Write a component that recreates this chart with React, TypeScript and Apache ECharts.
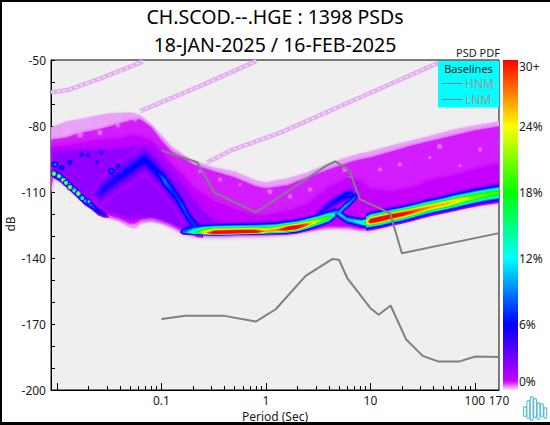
import React, { useEffect, useRef } from "react";
import * as echarts from "echarts";

const FONT = "Noto Sans";
const titleLines = ["CH.SCOD.--.HGE : 1398 PSDs", "18-JAN-2025 / 16-FEB-2025"];
const xMajorTicks = [0.01, 0.1, 1, 10, 100];
const xMinorTicks = [0.02, 0.03, 0.04, 0.05, 0.06, 0.07, 0.08, 0.09, 0.2, 0.3, 0.4, 0.5, 0.6, 0.7, 0.8, 0.9, 2, 3, 4, 5, 6, 7, 8, 9, 20, 30, 40, 50, 60, 70, 80, 90];
const xLabels = [0.1, 1, 10, 100, 170];
const yLabels = [-200, -170, -140, -110, -80, -50];
const yTicks = [-190, -180, -170, -160, -150, -140, -130, -120, -110, -100, -90, -80, -70, -60];
const barLabels = [0.73, 6, 12, 18, 24, 29.45];

const hnmPeriod = [0.1, 0.22, 0.32, 0.8, 3.8, 4.6, 6.3, 7.9, 15.4, 20, 170];
const hnmDb = [-91.1, -96.5, -110.2, -119.3, -98, -96.1, -100.2, -113.2, -119.6, -137.8, -128.7];
const lnmPeriod = [0.1, 0.17, 0.4, 0.8, 1.24, 2.4, 4.3, 5, 6, 10, 12, 15.6, 21.9, 31.6, 45, 70, 101, 170];
const lnmDb = [-167.7, -166.3, -166.3, -168.9, -163.3, -148.1, -140.5, -140.8, -149.1, -162.8, -165.8, -161.6, -176.9, -184.5, -187.1, -187.1, -184.8, -185];

const stripeA = [[0.0088, -64.8], [0.0133, -63.4], [0.0258, -58.5], [0.0665, -50.7]];
const stripeB = [[0.0623, -73.3], [0.233, -61.9], [0.81, -50.5]];
const stripeC = [[0.27, -96.7], [0.483, -90.7], [1.36, -83.1], [4.76, -71.7], [44.6, -51.3]];

const colorStops = [0, 0.8, 3, 6, 9, 12, 15, 18, 21, 24, 27, 30];
const colorValues = ["#fff0ff", "#cc00ff", "#7000ff", "#0000ff", "#0080ff", "#00ffff", "#00ff80", "#00ff00", "#80ff00", "#ffff00", "#ff8000", "#ff0000"];

const regionPeriods = [0.0088, 0.0092, 0.0125, 0.016, 0.02, 0.025, 0.032, 0.04, 0.05, 0.056, 0.063, 0.08, 0.1, 0.125, 0.16, 0.2, 0.32, 0.5, 0.8, 1, 1.6, 2.5, 4, 6.3, 8, 10, 16, 25, 40, 63, 100, 170];
const fringeTop = [-80.7, -80.2, -78, -77, -76.1, -75.2, -74.3, -74.1, -73.9, -74.3, -75.2, -79.3, -84.3, -89.3, -92.9, -95.7, -98.9, -100.7, -104.8, -105.7, -103.9, -101.1, -97, -93.9, -92.5, -91.6, -88.9, -86.6, -84.1, -81.6, -79.8, -78];
const fringeBottom = [-111.1, -103.4, -107.5, -112, -115.7, -119.3, -122, -123.4, -126.1, -126.6, -124.3, -123.4, -124.3, -126.1, -128.9, -129.8, -129.8, -129.8, -129.8, -129.8, -129.4, -128, -126.4, -126.6, -127.5, -127.5, -125.2, -123, -120.7, -118.4, -116.4, -114.8];
const mainTop = [-86.1, -86.1, -85.2, -83.4, -82.5, -81.6, -80.2, -78.9, -77.5, -77, -77, -80.7, -86.6, -91.6, -94.3, -97.5, -100.7, -103.4, -107.5, -108.4, -107.1, -103.4, -99.8, -96.6, -95.2, -94.3, -91.6, -88.9, -86.6, -84.3, -82, -80.2];
const mainBottom = [-108.9, -102.5, -106.6, -111.1, -114.8, -118.4, -120.7, -122, -124.3, -124.3, -122.5, -121.6, -123, -124.8, -127.5, -129.3, -129.3, -129.3, -129.3, -129.3, -128.9, -127.5, -125.7, -125.9, -126.8, -126.8, -124.3, -121.8, -119.8, -117.5, -115.7, -114.3];
const deepTop = [-89.3, -89.3, -88.9, -88, -87, -86.6, -86.1, -85.7, -84.3, -84.3, -84.8, -86.6, -91.6, -97.5, -102, -107.9, -114.3, -118, -120.7, -120.7, -118.9, -115.7, -107.9, -103.4, -105.2, -108.9, -109.8, -107.9, -104.3, -102.5, -99.8, -97];
const deepBottom = [-103.4, -100.7, -105.7, -109.8, -113.4, -117, -119.8, -121.1, -123, -123, -121.6, -121.1, -122.5, -124.3, -127, -129.1, -129.1, -129.1, -129.1, -128.9, -128, -126.6, -125, -125.2, -126.1, -126.1, -123.4, -121.1, -118.9, -116.6, -115.2, -113.6];

const violetPeriods = [0.0092, 0.0125, 0.02, 0.032, 0.05, 0.08, 0.1, 0.125, 0.16, 0.2, 0.25, 0.32, 0.5];
const violetTop = [-91.6, -91.6, -90.7, -90.7, -89.8, -89.3, -95.2, -100.7, -107, -113.4, -118.9, -123.4, -126.1];
const violetBottom = [-99.8, -104.3, -112.5, -118.9, -121.6, -121.1, -122, -123.9, -126.6, -128, -128.4, -128.9, -128.9];

const leftPeriod = [0.00916, 0.0107, 0.0125, 0.016, 0.0185, 0.0216, 0.025, 0.0282, 0.032];
const leftDb = [-101.2, -103, -105.9, -110.8, -113.8, -116.1, -118.8, -119.9, -121.7];
const leftPeak = [14, 14, 14, 14, 12, 9, 7, 5.5, 1.4];
const leftSpread = [1.1, 1.1, 1.1, 1.1, 1.1, 1.1, 1.1, 1.1, 1.1];

const floorPeriod = [0.15, 0.16, 0.2, 0.25, 0.32, 0.5, 0.8, 1, 1.25, 1.6, 2, 2.5, 3.2, 4, 4.6];
const floorDb = [-128.4, -128.4, -128.5, -128.6, -128.7, -128.5, -128.3, -127.9, -127.5, -126.8, -126.1, -124.8, -123.2, -121.6, -120];
const floorPeak = [1.4, 9, 15, 25, 34, 34, 33, 27, 28, 34, 34, 29, 23, 20, 12];
const floorUp = [1.5, 1.8, 2, 2, 2, 2, 2, 2, 1.9, 1.8, 1.7, 1.7, 1.7, 1.7, 1.7];
const floorDown = [0.5, 0.5, 0.5, 0.45, 0.45, 0.45, 0.5, 0.6, 0.8, 1, 1.1, 1.2, 1.3, 1.3, 1.3];

const elbowPeriod = [4.57, 5.1, 5.96, 8.2, 9.1, 9.9];
const elbowDb = [-118.9, -120.2, -122.5, -123.9, -123.9, -123.6];
const elbowPeak = [9, 12, 11, 14, 19, 27];
const elbowSpread = [1.2, 1.2, 1.2, 1.2, 1.2, 1.2];

const armPeriod = [4.57, 5.1, 5.7, 6.37, 7.1, 7.6];
const armDb = [-119.8, -118.9, -116.6, -114.8, -112.5, -111.1];
const armPeak = [9, 11, 11, 10, 9, 6];
const armSpread = [1.1, 1.1, 1.1, 1.1, 1.1, 1.1];

const strandPeriod = [2.64, 3.29, 4.38, 5.46, 6.65, 7.6];
const strandDb = [-122, -119.3, -114.8, -112, -111.1, -112.5];
const strandPeak = [1.4, 5, 6, 7, 7.5, 1.4];
const strandSpread = [1.6, 1.6, 1.6, 1.6, 1.6, 1.6];

const rightPeriod = [9.1, 10, 12.5, 16, 20, 25, 32, 40, 50, 63, 80, 100, 125, 170];
const rightDb = [-123.9, -123.2, -122.3, -121.1, -120.2, -119.1, -117.7, -116.6, -115.7, -114.5, -113.4, -112.3, -111.4, -110.4];
const rightPeak = [24, 33, 34, 33, 32, 30, 28, 27, 27, 26, 24, 22, 21, 20];
const rightUp = [1.9, 1.9, 1.9, 1.9, 1.9, 1.9, 1.9, 1.9, 1.9, 2, 2, 2, 2, 2.1];
const rightDown = [1.6, 1.7, 1.7, 1.7, 1.7, 1.7, 1.7, 1.7, 1.7, 1.8, 1.8, 1.9, 1.9, 2];

const veePeriod = [0.0207, 0.0258, 0.0344, 0.0533, 0.0695, 0.0906, 0.108, 0.135, 0.16, 0.187, 0.219, 0.25];
const veeDb = [-112, -110.2, -105.2, -98.9, -95.2, -100.7, -105.2, -111.1, -116.6, -122.5, -126.1, -127.5];
const veePeak = [1.4, 5.5, 6, 6.5, 6.8, 7, 9.5, 7.5, 8.5, 8, 8, 6];
const veeSpread = [2.4, 2.4, 2.4, 2.4, 2.4, 2.4, 2.4, 2.4, 2.4, 2.2, 2, 2];
const veeHaloPeak = [1.4, 4, 4.4, 4.5, 4.5, 4.5, 4.5, 4.5, 4.5, 4.5, 4.5, 3.5];
const veeHaloSpread = [5, 5, 5, 5, 5, 5, 5, 5, 4.5, 4, 3, 2.5];

const spotPeriod = [0.00957, 0.0111, 0.0133, 0.0172, 0.0198, 0.0241, 0.0268, 0.0333, 0.0384, 0.00935, 0.01045, 0.0115, 0.0122, 0.0133, 0.01466, 0.016, 0.01746, 0.0202];
const spotDb = [-97.5, -98.9, -96.6, -93, -93.4, -96.6, -92.2, -100.5, -98.3, -101.7, -102.8, -104.6, -105.8, -107.8, -109.3, -110.7, -112.8, -114.4];
const spotPeak = [10, 8, 7, 6.5, 6, 6, 6, 9, 7, 28, 24, 28, 24, 28, 22, 28, 20, 14];
const spotSize = [2.4, 2.4, 2.4, 2.2, 2.2, 2.2, 2.2, 2.6, 2.4, 1.5, 1.5, 1.5, 1.5, 1.5, 1.5, 1.5, 1.5, 1.5];

const palePeriod = [0.0107, 0.0139, 0.0166, 0.0231, 0.0321, 0.0384, 0.0448, 0.0557, 0.0258, 0.233, 0.363, 0.564, 1.09, 1.7, 2.64, 5.7, 6.37, 12.3, 19.1, 37, 46, 71.8, 112];
const paleDb = [-82.5, -79.8, -83.9, -78.9, -78, -79.8, -76.6, -77, -83, -100.7, -104.3, -106.6, -109.8, -112, -108.9, -99.8, -103.4, -99.8, -97.5, -94.3, -89.3, -98, -90.7];
const paleSize = [2.5, 2, 3, 2, 2.5, 2, 3, 2, 2.5, 1.5, 2, 1.5, 2.5, 2, 2, 2.5, 1.5, 2, 2, 1.5, 2.5, 1.5, 2];

const contourLevels = [1.5, 2, 2.5, 3, 3.5, 4, 4.5, 5, 5.5, 6, 7, 8, 9, 10, 11, 12, 13, 14, 15, 16, 17, 18, 19, 20, 21, 22, 23, 24, 25, 26, 27, 28, 29, 30];

function hexRgb(h: string) {
  return [parseInt(h.slice(1, 3), 16), parseInt(h.slice(3, 5), 16), parseInt(h.slice(5, 7), 16)];
}
function colorOf(v: number) {
  if (v >= 30) return colorValues[colorValues.length - 1];
  for (let i = 1; i < colorStops.length; i++) {
    if (v <= colorStops[i]) {
      const t = (v - colorStops[i - 1]) / (colorStops[i] - colorStops[i - 1]);
      const a = hexRgb(colorValues[i - 1]);
      const b = hexRgb(colorValues[i]);
      return `rgb(${a.map((c, k) => Math.round(c + (b[k] - c) * t)).join(",")})`;
    }
  }
  return colorValues[0];
}

type Shape = { kind: "poly"; pts: number[][]; fill: string; blur?: number } | { kind: "dot"; at: number[]; r: number; fill: string; blur?: number };
const shapes: Shape[] = [];

function addRegion(periods: number[], top: number[], bottom: number[], fill: string, blur = 0) {
  const pts = periods.map((p, i) => [p, top[i]]);
  for (let i = periods.length - 1; i >= 0; i--) pts.push([periods[i], bottom[i]]);
  shapes.push({ kind: "poly", pts, fill, blur });
}

type Ridge = { p: number[]; c: number[]; peak: number[]; up: number[]; down: number[] };
const ridgeList: Ridge[] = [
  { p: veePeriod, c: veeDb, peak: veeHaloPeak, up: veeHaloSpread, down: veeHaloSpread },
  { p: veePeriod, c: veeDb, peak: veePeak, up: veeSpread, down: veeSpread },
  { p: strandPeriod, c: strandDb, peak: strandPeak, up: strandSpread, down: strandSpread },
  { p: leftPeriod, c: leftDb, peak: leftPeak, up: leftSpread, down: leftSpread },
  { p: armPeriod, c: armDb, peak: armPeak, up: armSpread, down: armSpread },
  { p: elbowPeriod, c: elbowDb, peak: elbowPeak, up: elbowSpread, down: elbowSpread },
  { p: floorPeriod, c: floorDb, peak: floorPeak, up: floorUp, down: floorDown },
  { p: rightPeriod, c: rightDb, peak: rightPeak, up: rightUp, down: rightDown },
];

function addRidgeLevel(r: Ridge, level: number) {
  let run: number[][] = [];
  const flush = () => {
    if (run.length >= 2) {
      const pts = run.map((q) => [q[0], q[1] + q[2]]);
      for (let i = run.length - 1; i >= 0; i--) pts.push([run[i][0], run[i][1] - run[i][3]]);
      shapes.push({ kind: "poly", pts, fill: colorOf(level) });
    }
    run = [];
  };
  const tip = (i: number, j: number) => {
    const t = (level - r.peak[i]) / (r.peak[j] - r.peak[i]);
    const lp = Math.log(r.p[i]) + (Math.log(r.p[j]) - Math.log(r.p[i])) * t;
    run.push([Math.exp(lp), r.c[i] + (r.c[j] - r.c[i]) * t, 0, 0]);
  };
  for (let i = 0; i < r.p.length; i++) {
    if (r.peak[i] > level) {
      if (i > 0 && r.peak[i - 1] <= level && run.length === 0) tip(i - 1, i);
      const k = Math.sqrt(2 * Math.log(r.peak[i] / level));
      run.push([r.p[i], r.c[i], r.up[i] * k, r.down[i] * k]);
      if (i + 1 < r.p.length && r.peak[i + 1] <= level) {
        tip(i, i + 1);
        flush();
      }
    }
  }
  flush();
}

addRegion(regionPeriods, fringeTop, fringeBottom, "#e9a3f7", 2);
addRegion(regionPeriods, mainTop, mainBottom, "#d31fff", 3);
palePeriod.forEach((p, i) => shapes.push({ kind: "dot", at: [p, paleDb[i]], r: paleSize[i], fill: "rgba(238,150,250,0.55)", blur: 3 }));
addRegion(regionPeriods, deepTop, deepBottom, "#c406ff", 6);
addRegion(violetPeriods, violetTop, violetBottom, colorOf(2.2), 6);
contourLevels.forEach((level) => ridgeList.forEach((r) => addRidgeLevel(r, level)));
spotPeriod.forEach((p, i) => {
  contourLevels.filter((l) => l < spotPeak[i] && l >= 3).forEach((l) => {
    shapes.push({ kind: "dot", at: [p, spotDb[i]], r: spotSize[i] * Math.sqrt(2 * Math.log(spotPeak[i] / l)), fill: colorOf(l) });
  });
});

const logoPath = "M0 12L0 19A1.4 1.4 0 0 0 2.8 19L2.8 12A1.4 1.4 0 0 0 0 12ZM3.4 6L3.4 21A1.4 1.4 0 0 0 6.2 21L6.2 6A1.4 1.4 0 0 0 3.4 6ZM6.8 2L6.8 23A1.4 1.4 0 0 0 9.6 23L9.6 2A1.4 1.4 0 0 0 6.8 2ZM10.2 4L10.2 20A1.4 1.4 0 0 0 13 20L13 4A1.4 1.4 0 0 0 10.2 4ZM13.6 8L13.6 22A1.4 1.4 0 0 0 16.4 22L16.4 8A1.4 1.4 0 0 0 13.6 8ZM17 9L17 19A1.4 1.4 0 0 0 19.8 19L19.8 9A1.4 1.4 0 0 0 17 9ZM20.4 13L20.4 21A1.4 1.4 0 0 0 23.2 21L23.2 13A1.4 1.4 0 0 0 20.4 13Z";
echarts.graphic.registerShape("logo", echarts.graphic.extendPath(logoPath, {}));

const zip = (a: number[], b: number[]) => a.map((v, i) => [v, b[i]]);

export default function App() {
  const ref = useRef<HTMLDivElement>(null);
  useEffect(() => {
    const chart = echarts.init(ref.current!, undefined, { renderer: "svg" });
    const textBase = { fontFamily: FONT, color: "#1a1a1a", fontSize: 12 };
    const stripe = (name: string, data: number[][], color: string, width: number, dash?: number[]) => ({
      type: "line", name, data, symbol: "none", silent: true, z: 3,
      lineStyle: { color, width, type: dash || "solid" },
    });
    chart.setOption({
      animation: false,
      backgroundColor: "#ffffff",
      textStyle: { fontFamily: FONT },
      grid: [
        { left: 51, top: 60, width: 448, height: 330, show: true, backgroundColor: "#efefef", borderColor: "#000", borderWidth: 1, containLabel: false, outerBoundsMode: "none" },
        { left: 503, top: 60, width: 15, height: 330, show: false, outerBoundsMode: "none" },
      ],
      xAxis: [
        {
          type: "log", gridIndex: 0, min: 0.00877, max: 170, logBase: 10,
          name: "Period (Sec)", nameLocation: "middle", nameGap: 20, nameTextStyle: textBase,
          axisLine: { show: true, lineStyle: { color: "#000", width: 1 } },
          splitLine: { show: false },
          axisTick: { show: true, inside: true, length: 7, lineStyle: { color: "#000" }, customValues: xMajorTicks },
          axisLabel: { ...textBase, margin: 4, customValues: xLabels, formatter: (v: number) => String(Math.round(v * 10) / 10), showMinLabel: true, showMaxLabel: true, hideOverlap: false },
        },
        {
          type: "log", gridIndex: 0, min: 0.00877, max: 170, logBase: 10, position: "bottom",
          axisLine: { show: false }, splitLine: { show: false }, axisLabel: { show: false },
          axisTick: { show: true, inside: true, length: 4, lineStyle: { color: "#000" }, customValues: xMinorTicks },
        },
        { type: "value", gridIndex: 1, min: 0, max: 1, show: false },
      ],
      yAxis: [
        {
          type: "value", gridIndex: 0, min: -200, max: -50,
          axisLine: { show: true, lineStyle: { color: "#000", width: 1 } },
          splitLine: { show: false },
          axisTick: { show: true, inside: true, length: 4, lineStyle: { color: "#000" }, customValues: [...yLabels, ...yTicks] },
          axisLabel: { ...textBase, margin: 5, customValues: yLabels },
        },
        {
          type: "value", gridIndex: 1, min: 0, max: 30, position: "right",
          axisLine: { show: false }, axisTick: { show: false }, splitLine: { show: false },
          axisLabel: {
            ...textBase, margin: 1, customValues: barLabels,
            formatter: (v: number) => (v > 29 ? "30+" : v < 1 ? "0%" : `${v}%`),
          },
        },
      ],
      legend: {
        data: [{ name: "HNM", icon: "rect" }, { name: "LNM", icon: "rect" }], orient: "vertical", left: 442, top: 77, itemWidth: 20, itemHeight: 1, itemGap: 3, padding: 0, z: 12,
        textStyle: { fontFamily: FONT, color: "#999999", fontSize: 12, lineHeight: 13, padding: [0, 0, 0, -2] },
        itemStyle: { color: "#8a7f7f", borderWidth: 0 },
      },
      graphic: [
        { type: "text", x: 275, y: 16, z: 5, style: { text: titleLines[0], font: `19.5px "${FONT}"`, fill: "#000", align: "center", verticalAlign: "middle" } },
        { type: "text", x: 275, y: 44.5, z: 5, style: { text: titleLines[1], font: `19.5px "${FONT}"`, fill: "#000", align: "center", verticalAlign: "middle" } },
        { type: "text", x: 478, y: 52, z: 5, style: { text: "PSD PDF", font: `11px "${FONT}"`, fill: "#1a1a1a", align: "center", verticalAlign: "middle" } },
        { type: "text", x: 10, y: 224, rotation: Math.PI / 2, z: 5, style: { text: "dB", font: `12px "${FONT}"`, fill: "#1a1a1a", align: "center", verticalAlign: "middle" } },
        { type: "rect", z: 10, shape: { x: 438, y: 61, width: 61, height: 46.5 }, style: { fill: "#00ffff" } },
        { type: "text", x: 468.5, y: 68.5, z: 11, style: { text: "Baselines", font: `11px "${FONT}"`, fill: "#1a1a1a", align: "center", verticalAlign: "middle" } },
        { type: "logo", x: 523.5, y: 396, z: 5, style: { fill: "none", stroke: "#5cbcd6", lineWidth: 1.1 } },
      ],
      series: [
        {
          type: "custom", name: "PDF", xAxisIndex: 0, yAxisIndex: 0, clip: true, silent: true, z: 2,
          data: shapes.map((_, i) => [1, -100, i]),
          encode: { x: 0, y: 1 },
          renderItem: (params: any, api: any) => {
            const s = shapes[params.dataIndex];
            const blur = s.blur ? { shadowBlur: s.blur, shadowColor: s.fill } : {};
            if (s.kind === "dot") {
              const c = api.coord(s.at);
              return { type: "circle", shape: { cx: c[0], cy: c[1], r: s.r }, style: { fill: s.fill, ...blur }, silent: true };
            }
            return { type: "polygon", shape: { points: s.pts.map((q) => api.coord(q)) }, style: { fill: s.fill, ...blur }, silent: true };
          },
        },
        stripe("a1", stripeA, "#e3aef2", 4.5),
        stripe("a2", stripeA, "#f0e4f2", 1.5, [3, 3]),
        stripe("b1", stripeB, "#e3aef2", 4.5),
        stripe("b2", stripeB, "#f0e4f2", 1.5, [3, 3]),
        stripe("c1", stripeC, "#e3aef2", 4.5),
        stripe("c2", stripeC, "#f0e4f2", 1.5, [3, 3]),
        { type: "line", name: "HNM", data: zip(hnmPeriod, hnmDb), symbol: "none", z: 4, lineStyle: { color: "#808080", width: 2 }, itemStyle: { color: "#808080" }, silent: true },
        { type: "line", name: "LNM", data: zip(lnmPeriod, lnmDb), symbol: "none", z: 4, lineStyle: { color: "#808080", width: 2 }, itemStyle: { color: "#808080" }, silent: true },
        {
          type: "custom", name: "colorbar", xAxisIndex: 2, yAxisIndex: 1, clip: true, silent: true,
          data: colorStops.slice(1).map((v, i) => [0.5, v, i]),
          encode: { x: 0, y: 1 },
          renderItem: (params: any, api: any) => {
            const i = params.dataIndex;
            const lo = api.coord([0, colorStops[i]]);
            const hi = api.coord([1, colorStops[i + 1]]);
            return {
              type: "rect",
              shape: { x: lo[0], y: hi[1], width: hi[0] - lo[0], height: lo[1] - hi[1] + 0.5 },
              style: { fill: new echarts.graphic.LinearGradient(0, 1, 0, 0, [{ offset: 0, color: colorValues[i] }, { offset: 1, color: colorValues[i + 1] }]) },
            };
          },
        },
      ],
    });
    return () => chart.dispose();
  }, []);
  return (
    <div style={{ position: "fixed", left: 0, top: 0, width: 550, height: 425, background: "#fff" }}>
      <div ref={ref} style={{ width: 550, height: 425 }} />
      <div style={{ position: "absolute", left: 0, top: 0, width: 550, height: 425, boxSizing: "border-box", borderLeft: "2px solid #000", borderTop: "2px solid #000", borderBottom: "3px solid #000", pointerEvents: "none" }} />
    </div>
  );
}
